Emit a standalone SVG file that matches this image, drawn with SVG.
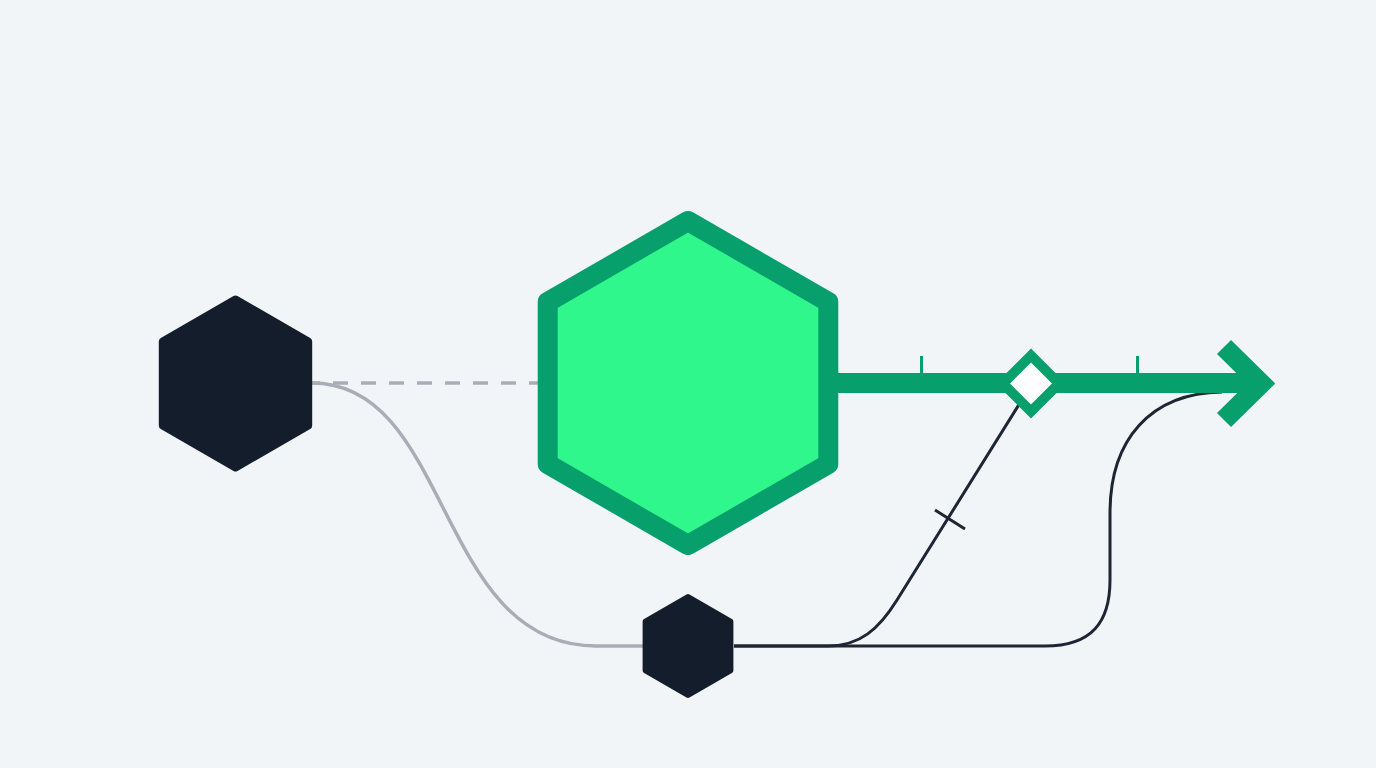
<svg xmlns="http://www.w3.org/2000/svg" width="1376" height="768" viewBox="0 0 1376 768">
  <style>
    .dark { fill: #141d2b; stroke: #141d2b; stroke-linejoin: round; }
    .grey { fill: none; stroke: #a9adb6; stroke-width: 3.5; }
    .ink { fill: none; stroke: #1e2533; stroke-width: 3; stroke-linecap: butt; }
    .green { fill: none; stroke: #07a06c; }
  </style>
  <rect width="1376" height="768" fill="#f2f5f8"/>
  <g id="connectors">
    <path class="grey" d="M312 383 H545" stroke-dasharray="15 13" stroke-dashoffset="7"/>
    <path class="grey" d="M312 383 C452 383 436 646 596 646 L645 646"/>
    <path class="ink" d="M734 646 L828 646 C860 646 879 629 897 600 L1020 403"/>
    <path class="ink" d="M935 510 L965 529"/>
    <path class="ink" d="M734 646 L1045 646 C1092 646 1110 622 1110 580 L1110 513 C1110 440 1150 393 1222 392"/>
    <path class="green" stroke-width="20" d="M830 383 H1258"/>
    <path class="green" stroke-width="3" d="M921.5 356 V375 M1137.5 356 V375"/>
    <path class="green" stroke-width="20" stroke-linejoin="miter" d="M1224 347 L1261 383.5 L1224 420"/>
    <polygon points="1031,355.5 1059,383.5 1031,411.5 1003,383.5" fill="#ffffff" stroke="#07a06c" stroke-width="10"/>
  </g>
  <g id="node-left">
    <polygon class="dark" stroke-width="8" points="235.5,299.5 308.2,341.5 308.2,425.5 235.5,467.5 162.8,425.5 162.8,341.5"/>
  </g>
  <g id="node-center">
    <polygon points="688,221 828.3,302 828.3,464 688,545 547.7,464 547.7,302" fill="#2ff78c" stroke="#07a06c" stroke-width="20" stroke-linejoin="round"/>
  </g>
  <g id="node-bottom">
    <polygon class="dark" stroke-width="6" points="688,597 730.4,621.5 730.4,670.5 688,695 645.6,670.5 645.6,621.5"/>
  </g>
</svg>
